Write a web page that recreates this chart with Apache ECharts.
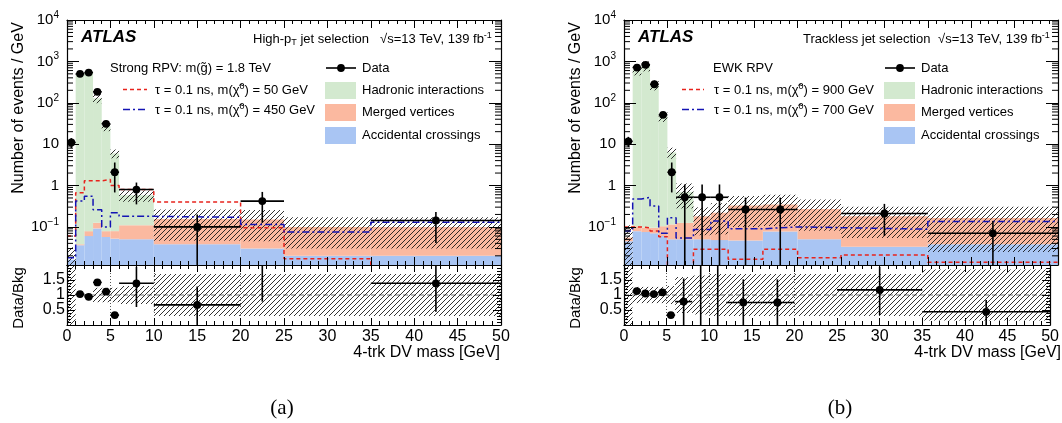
<!DOCTYPE html>
<html><head><meta charset="utf-8">
<script src="https://cdn.jsdelivr.net/npm/echarts@6/dist/echarts.min.js"></script>
<style>html,body{margin:0;padding:0;background:#fff}#c{width:1062px;height:423px}</style>
</head><body><div id="c"></div>
<script>
// ================= DATA =================
// ---- panel (a): High-pT jet selection, Strong RPV ----
const edgesA      = [0,1,2,3,4,5,6,10,20,25,35,50];
const accidentalA = [0.016,0.036,0.060,0.092,0.057,0.052,0.050,0.038,0.030,0.020,0.020];
const mergedA     = [0,0.002,0.019,0.034,0.022,0.027,0.060,0.117,0.120,0.080,0.080];
const hadronicA   = [0,476,553,128,27,5.9,0.47,0,0,0,0];
const bkgRelErrA  = [1.0,0.03,0.03,0.24,0.24,0.24,0.30,0.70,0.70,0.70,0.70];
const sig50A      = [0.06,0.67,1.3,1.3,1.4,1.0,0.8,0.4,0.096,0.017,0.005];
const sig450A     = [0.018,0.42,0.55,0.26,0.10,0.22,0.18,0.17,0.115,0.075,0.13];
const dataXA   = [0.5,1.5,2.5,3.5,4.5,5.5,8,15,22.5,42.5];
const dataXLoA = [0,1,2,3,4,5,6,10,20,35];
const dataXHiA = [1,2,3,4,5,6,10,20,25,50];
const dataYA   = [11,500,537,184,31,2.1,0.8,0.1,0.42,0.143];
const dataYLoA = [8,478,514,171,25.5,0.68,0.35,0.00001,0.126,0.041];
const dataYHiA = [14,522,560,197,37,3.6,1.18,0.2,0.7,0.23];
const ratioXA   = [1.5,2.5,3.5,4.5,5.5,8,15,22.5,42.5];
const ratioXLoA = [1,2,3,4,5,6,10,20,35];
const ratioXHiA = [2,3,4,5,6,10,20,25,50];
const ratioA    = [1.03,0.94,1.42,1.11,0.33,1.39,0.67,2.67,1.39];
const ratioLoA  = [1.0,0.91,1.38,1.0,0.25,0.6,-0.1,0.78,0.44];
const ratioHiA  = [1.06,0.97,1.46,1.2,0.42,1.94,1.28,3.5,2.0];

// ---- panel (b): Trackless jet selection, EWK RPV ----
const edgesB      = [0,1,2,3,4,5,6,8,10,12,16,20,25,35,50];
const accidentalB = [0.045,0.079,0.075,0.070,0.060,0.050,0.050,0.050,0.048,0.047,0.077,0.050,0.033,0.038];
const mergedB     = [0.010,0.025,0.020,0.025,0.044,0.065,0.075,0.130,0.172,0.283,0.273,0.220,0.147,0.127];
const hadronicB   = [0,628,785,272,47,6.2,0.575,0,0,0,0,0,0,0];
const bkgRelErrB  = [1.0,0.27,0.27,0.27,0.27,0.30,0.60,0.65,0.70,0.70,0.70,0.70,0.70,0.85];
const sig900B     = [0.10,0.10,0.095,0.080,0.058,0.005,0.005,0.029,0.029,0.0165,0.029,0.018,0.021,0.014];
const sig700B     = [0.080,0.47,0.52,0.32,0.07,0.167,0.054,0.087,0.138,0.09,0.10,0.096,0.088,0.135];
const dataXB   = [0.5,1.5,2.5,3.5,4.5,5.5,7,9,11,14,18,30,42.5];
const dataXLoB = [0,1,2,3,4,5,6,8,10,12,16,25,35];
const dataXHiB = [1,2,3,4,5,6,8,10,12,16,20,35,50];
const dataYB   = [11.7,710,824,280,51,2.09,0.52,0.52,0.52,0.264,0.264,0.211,0.07];
const dataYLoB = [8.5,684,795,263,44,0.68,0.00001,0.00001,0.00001,0.00001,0.00001,0.06,0.00001];
const dataYHiB = [15,736,853,297,58,3.6,1.06,1.06,1.06,0.51,0.51,0.36,0.138];
const ratioXB   = [1.5,2.5,3.5,4.5,5.5,7,9,11,14,18,30,42.5];
const ratioXLoB = [1,2,3,4,5,6,8,10,12,16,25,35];
const ratioXHiB = [2,3,4,5,6,8,10,12,16,20,35,50];
const ratioB    = [1.13,1.05,1.03,1.09,0.33,0.78,3.2,2.4,0.75,0.75,1.17,0.44];
const ratioLoB  = [1.1,1.02,1.0,1.04,0.25,-0.1,-0.1,-0.1,-0.1,-0.1,0.33,-0.1];
const ratioHiB  = [1.16,1.08,1.06,1.14,0.4,1.55,4,4,1.52,1.52,1.94,0.83];

// axis tick values
const xTickStep = 5;
const ratioTickStep = 0.5;
const ratioVLines = [5,10,20];

// ================= RENDERING =================
const FF = '"Liberation Sans", Arial, Helvetica, sans-serif';
const C_HAD = '#d3e9cf', C_MER = '#fbb9a0', C_ACC = '#a9c5f3';
const C_SIGR = '#e8231c', C_SIGB = '#1414b4';
const FLOOR = 1e-5;

function makeHatch(){
  const s = 5, c = document.createElement('canvas');
  c.width = s; c.height = s;
  const g = c.getContext('2d');
  g.strokeStyle = 'rgba(15,15,15,0.95)'; g.lineWidth = 0.9;
  g.beginPath();
  g.moveTo(0, s); g.lineTo(s, 0);
  g.moveTo(-1, 1); g.lineTo(1, -1);
  g.moveTo(s - 1, s + 1); g.lineTo(s + 1, s - 1);
  g.stroke();
  return c;
}
const hatch = makeHatch();

function boxSeries(gi, edges, lows, highs, style, z){
  const data = lows.map((lo, i) => [edges[i], edges[i+1], lo, highs[i]]);
  return {type:'custom', xAxisIndex:gi, yAxisIndex:gi, clip:true, silent:true, z,
    data, encode:{x:[0,1], y:[2,3]},
    renderItem(params, api){
      const x0 = api.value(0), x1 = api.value(1), y0 = api.value(2), y1 = api.value(3);
      if (!(y1 > y0)) return null;
      const p0 = api.coord([x0, y1]), p1 = api.coord([x1, y0]);
      return {type:'rect', shape:{x:p0[0], y:p0[1], width:p1[0]-p0[0], height:p1[1]-p0[1]}, style};
    }};
}
function stepSeries(gi, edges, vals, color, dash, z){
  const data = edges.map((e, i) => [e, vals[Math.min(i, vals.length - 1)]]);
  return {type:'line', xAxisIndex:gi, yAxisIndex:gi, step:'end', data, showSymbol:false, silent:true, z,
    lineStyle:{color, width:1.5, type:dash}, clip:true, animation:false};
}
function pointSeries(gi, xs, xl, xh, ys, yl, yh, z){
  const data = xs.map((x, i) => [x, xl[i], xh[i], ys[i], yl[i], yh[i]]);
  return {type:'custom', xAxisIndex:gi, yAxisIndex:gi, clip:true, silent:true, z,
    data, encode:{x:[0], y:[3]},
    renderItem(params, api){
      const x = api.value(0), a = api.value(1), b = api.value(2), y = api.value(3), lo = api.value(4), hi = api.value(5);
      const c = api.coord([x, y]), ca = api.coord([a, y]), cb = api.coord([b, y]);
      const cl = api.coord([x, lo]), ch = api.coord([x, hi]);
      const st = {stroke:'#000', lineWidth:1.6};
      return {type:'group', children:[
        {type:'line', shape:{x1:ca[0], y1:c[1], x2:cb[0], y2:c[1]}, style:st},
        {type:'line', shape:{x1:c[0], y1:cl[1], x2:c[0], y2:ch[1]}, style:st},
        {type:'circle', shape:{cx:c[0], cy:c[1], r:3.9}, style:{fill:'#000'}}
      ]};
    }};
}
function logMinorTicks(gi){
  const vals = [];
  for (let k = -2; k <= 3; k++) for (let m = 2; m <= 9; m++){
    const v = m * Math.pow(10, k);
    if (v > 0.012 && v < 10000) vals.push([0, v]);
  }
  return {type:'custom', xAxisIndex:gi, yAxisIndex:gi, clip:false, silent:true, z:20, data:vals,
    encode:{x:[0], y:[1]},
    renderItem(params, api){
      const v = api.value(1);
      const l = api.coord([0, v]), r = api.coord([50, v]);
      const st = {stroke:'#000', lineWidth:1};
      return {type:'group', children:[
        {type:'line', shape:{x1:l[0], y1:l[1], x2:l[0]+6, y2:l[1]}, style:st},
        {type:'line', shape:{x1:r[0], y1:r[1], x2:r[0]-6, y2:r[1]}, style:st}
      ]};
    }};
}

const panels = [
  {main:0, ratio:1, edges:edgesA, acc:accidentalA, mer:mergedA, had:hadronicA, err:bkgRelErrA,
   sR:sig50A, sB:sig450A, dx:dataXA, dxl:dataXLoA, dxh:dataXHiA, dy:dataYA, dyl:dataYLoA, dyh:dataYHiA,
   rx:ratioXA, rxl:ratioXLoA, rxh:ratioXHiA, ry:ratioA, ryl:ratioLoA, ryh:ratioHiA},
  {main:2, ratio:3, edges:edgesB, acc:accidentalB, mer:mergedB, had:hadronicB, err:bkgRelErrB,
   sR:sig900B, sB:sig700B, dx:dataXB, dxl:dataXLoB, dxh:dataXHiB, dy:dataYB, dyl:dataYLoB, dyh:dataYHiB,
   rx:ratioXB, rxl:ratioXLoB, rxh:ratioXHiB, ry:ratioB, ryl:ratioLoB, ryh:ratioHiB}
];

const series = [];
const hatchStyle = {fill:{image:hatch, repeat:'repeat'}, stroke:null};
panels.forEach(p => {
  const c1 = p.acc.map(v => v);
  const c2 = p.acc.map((v, i) => v + p.mer[i]);
  const c3 = c2.map((v, i) => v + p.had[i]);
  const floor = p.acc.map(() => FLOOR);
  series.push(boxSeries(p.main, p.edges, floor, c1, {fill:C_ACC, stroke:null}, 2));
  series.push(boxSeries(p.main, p.edges, c1, c2, {fill:C_MER, stroke:null}, 2));
  series.push(boxSeries(p.main, p.edges, c2, c3, {fill:C_HAD, stroke:null}, 2));
  series.push(boxSeries(p.main, p.edges, c3.map((t, i) => Math.max(FLOOR, t * (1 - p.err[i]))),
    c3.map((t, i) => t * (1 + p.err[i])), hatchStyle, 3));
  series.push(stepSeries(p.main, p.edges, p.sR, C_SIGR, [4,3], 4));
  series.push(stepSeries(p.main, p.edges, p.sB, C_SIGB, [7,3,2,3], 4));
  series.push(pointSeries(p.main, p.dx, p.dxl, p.dxh, p.dy, p.dyl, p.dyh, 5));
  series.push(logMinorTicks(p.main));
  // ratio
  series.push(boxSeries(p.ratio, p.edges, p.err.map(e => 1 - e), p.err.map(e => 1 + e), hatchStyle, 3));
  series.push({type:'line', xAxisIndex:p.ratio, yAxisIndex:p.ratio, data:[[0,1],[50,1]], showSymbol:false, silent:true, z:2,
    lineStyle:{color:'#777', width:1, type:[5,3]},
    markLine:{silent:true, symbol:'none', label:{show:false}, animation:false,
      lineStyle:{color:'#555', width:1, type:[1,2]},
      data: ratioVLines.map(v => ({xAxis:v}))}});
  series.push(pointSeries(p.ratio, p.rx, p.rxl, p.rxh, p.ry, p.ryl, p.ryh, 5));
});

const grids = [
  {left:67, top:20, width:434, height:245},
  {left:67, top:265, width:434, height:60},
  {left:624, top:20, width:434, height:245},
  {left:624, top:265, width:434, height:60}
];
const axLine = {show:true, onZero:false, lineStyle:{color:'#000', width:1.2}};
function xAx(gi, pos, showLabel, isRatio){
  return {type:'value', gridIndex:gi, position:pos, min:0, max:50, interval:xTickStep, z:10,
    axisLine:axLine,
    axisTick:{show:true, inside:true, length:isRatio?7:8, lineStyle:{color:'#000', width:1}},
    minorTick:{show:true, splitNumber:5, length:4, lineStyle:{color:'#000', width:1}},
    axisLabel:{show:showLabel, color:'#000', fontSize:16, fontFamily:FF, margin:4},
    splitLine:{show:false}, minorSplitLine:{show:false}};
}
function logFmt(v){
  const e = Math.round(Math.log10(v));
  if (Math.abs(v / Math.pow(10, e) - 1) > 1e-6) return '';
  if (e === 0) return '{b|1}';
  if (e === 1) return '{b|10}';
  return '{b|10}{s|' + (e < 0 ? '\u2212' + (-e) : e) + '}';
}
function yLog(gi, pos, showLabel){
  return {type:'log', logBase:10, gridIndex:gi, position:pos, min:0.012, max:10000, z:10,
    axisLine:axLine,
    axisTick:{show:true, inside:true, length:12, lineStyle:{color:'#000', width:1}},
    axisLabel:{show:showLabel, formatter:logFmt, margin:8, color:'#000',
      rich:{b:{fontSize:15, fontFamily:FF, color:'#000', lineHeight:20},
            s:{fontSize:10, fontFamily:FF, color:'#000', lineHeight:11, verticalAlign:'top'}}},
    splitLine:{show:false}};
}
function yRatio(gi, pos, showLabel){
  return {type:'value', gridIndex:gi, position:pos, min:0, max:2, interval:ratioTickStep, z:10,
    axisLine:axLine,
    axisTick:{show:true, inside:true, length:8, lineStyle:{color:'#000', width:1}},
    minorTick:{show:true, splitNumber:5, length:4, lineStyle:{color:'#000', width:1}},
    axisLabel:{show:showLabel, color:'#000', fontSize:16, fontFamily:FF, margin:2,
      formatter:v => (v > 0.01 && v < 1.99) ? String(v) : ''},
    splitLine:{show:false}, minorSplitLine:{show:false}};
}

const xAxis = [xAx(0,'bottom',false,false), xAx(1,'bottom',true,true), xAx(2,'bottom',false,false), xAx(3,'bottom',true,true),
               xAx(0,'top',false,false), xAx(1,'top',false,true), xAx(2,'top',false,false), xAx(3,'top',false,true)];
const yAxis = [yLog(0,'left',true), yRatio(1,'left',true), yLog(2,'left',true), yRatio(3,'left',true),
               yLog(0,'right',false), yRatio(1,'right',false), yLog(2,'right',false), yRatio(3,'right',false)];

// ---- text & legend graphics ----
const supRich = {s:{fontSize:9, fontFamily:FF, fill:'#000', lineHeight:9, verticalAlign:'top'},
                 d:{fontSize:9, fontFamily:FF, fill:'#000', lineHeight:9, verticalAlign:'bottom'}};
function txt(x, y, text, opt){
  opt = opt || {};
  return {type:'text', x, y, z:50, silent:true, style:Object.assign({text, fill:'#000', fontSize:13, fontFamily:FF,
    textAlign:'left', align:'left', textVerticalAlign:'middle', verticalAlign:'middle', lineHeight:16, rich:supRich}, opt)};
}
const graphic = [];
const panelTxt = [
  {dx:0, sel:'High-p{d|T} jet selection', selX:253, enX:380, model:'Strong RPV: m(g\u0303) = 1.8 TeV', modelX:110,
   sig1:'\u03C4 = 0.1 ns, m(\u03C7\u0303{s|0}) = 50 GeV', sig2:'\u03C4 = 0.1 ns, m(\u03C7\u0303{s|0}) = 450 GeV',
   lx0:123, lx1:147, ltx:155, legX:325, lab:'(a)', labX:282, xtR:500},
  {dx:557, sel:'Trackless jet selection', selX:803, enX:938, model:'EWK RPV', modelX:713,
   sig1:'\u03C4 = 0.1 ns, m(\u03C7\u0303{s|0}) = 900 GeV', sig2:'\u03C4 = 0.1 ns, m(\u03C7\u0303{s|0}) = 700 GeV',
   lx0:682, lx1:704, ltx:714, legX:884, lab:'(b)', labX:840, xtR:1061}
];
panelTxt.forEach(t => {
  graphic.push(txt(81 + t.dx, 37, 'ATLAS', {fontSize:17, fontWeight:'bold', fontStyle:'italic'}));
  graphic.push(txt(t.selX, 39, t.sel));
  graphic.push(txt(t.enX, 39, '\u221As=13 TeV, 139 fb{s|-1}'));
  graphic.push(txt(t.modelX, 68, t.model));
  graphic.push({type:'line', z:50, silent:true, shape:{x1:t.lx0, y1:89.5, x2:t.lx1, y2:89.5}, style:{stroke:C_SIGR, lineWidth:1.5, lineDash:[4,3]}});
  graphic.push(txt(t.ltx, 90, t.sig1));
  graphic.push({type:'line', z:50, silent:true, shape:{x1:t.lx0, y1:109.5, x2:t.lx1, y2:109.5}, style:{stroke:C_SIGB, lineWidth:1.5, lineDash:[7,3,2,3]}});
  graphic.push(txt(t.ltx, 110, t.sig2));
  // legend: data + backgrounds
  const lx = t.legX;
  graphic.push({type:'line', z:50, silent:true, shape:{x1:lx+1, y1:68, x2:lx+31, y2:68}, style:{stroke:'#000', lineWidth:1.6}});
  graphic.push({type:'circle', z:51, silent:true, shape:{cx:lx+16, cy:68, r:3.9}, style:{fill:'#000'}});
  graphic.push(txt(lx + 37, 68, 'Data'));
  [[C_HAD,'Hadronic interactions',82],[C_MER,'Merged vertices',104],[C_ACC,'Accidental crossings',127]].forEach(b => {
    graphic.push({type:'rect', z:50, silent:true, shape:{x:lx, y:b[2], width:31, height:17}, style:{fill:b[0]}});
    graphic.push(txt(lx + 37, b[2] + 8.8, b[1]));
  });
  // axis titles
  graphic.push({type:'text', z:50, silent:true, x:19 + t.dx, y:108, rotation:Math.PI/2,
    style:{text:'Number of events / GeV', fill:'#000', fontSize:16, fontFamily:FF, textAlign:'center', align:'center', textVerticalAlign:'middle', verticalAlign:'middle'}});
  graphic.push({type:'text', z:50, silent:true, x:19 + t.dx, y:298, rotation:Math.PI/2,
    style:{text:'Data/Bkg', fill:'#000', fontSize:15, fontFamily:FF, textAlign:'center', align:'center', textVerticalAlign:'middle', verticalAlign:'middle'}});
  graphic.push(txt(t.xtR, 353, '4-trk DV mass [GeV]', {fontSize:16, textAlign:'right', align:'right'}));
  graphic.push(txt(t.labX, 408, t.lab, {fontSize:21, fontFamily:'"Liberation Serif", "DejaVu Serif", serif', textAlign:'center', align:'center'}));
});

const chart = echarts.init(document.getElementById('c'), null, {renderer:'canvas'});
chart.setOption({
  animation:false,
  backgroundColor:'#ffffff',
  grid:grids,
  xAxis, yAxis, series, graphic
});
</script>
</body></html>
